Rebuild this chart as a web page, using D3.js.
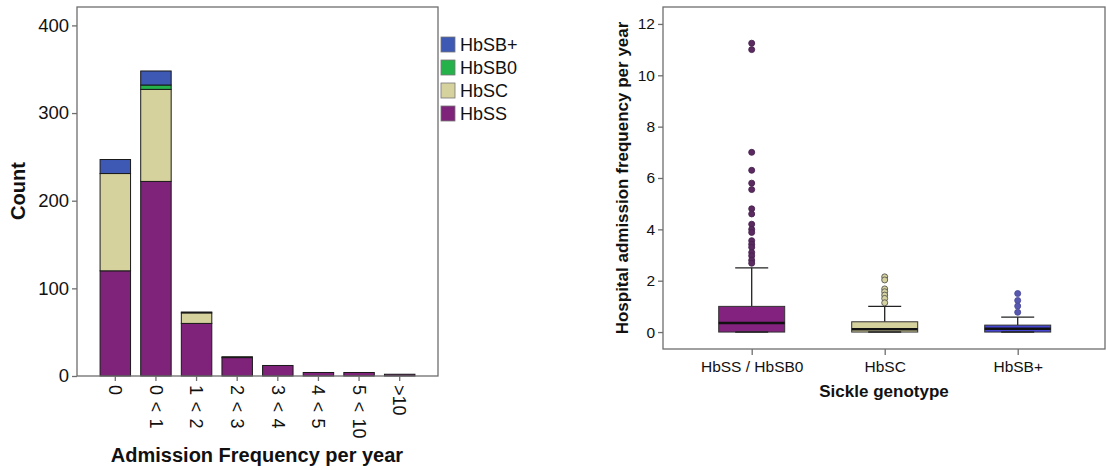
<!DOCTYPE html>
<html>
<head>
<meta charset="utf-8">
<script src="https://cdn.jsdelivr.net/npm/d3@7"></script>
<style>
  body { margin: 0; background: #fff; }
  text { font-family: Arial, "Liberation Sans", sans-serif; fill: #111; }
</style>
</head>
<body>
<svg id="chart" width="1107" height="470"></svg>
<script>
// ---- left chart data: stacked counts per admission bin
const bins = ["0", "0 < 1", "1 < 2", "2 < 3", "3 < 4", "4 < 5", "5 < 10", ">10"];
const hbss = [120, 222, 60, 21, 12, 4, 4, 2];
const hbsc = [111, 105, 12, 1, 0, 0, 0, 0];
const hbsb0 = [0, 5, 0, 0, 0, 0, 0, 0];
const hbsbPlus = [16, 16, 1, 0, 0, 0, 0, 0];
const countTicks = [0, 100, 200, 300, 400];
const stackKeys = ["HbSS", "HbSC", "HbSB0", "HbSB+"];
const legendOrder = ["HbSB+", "HbSB0", "HbSC", "HbSS"];

// ---- right chart data: box plot summaries per genotype
const genotypes = ["HbSS / HbSB0", "HbSC", "HbSB+"];
const whiskLow = [0, 0, 0];
const q1 = [0, 0, 0];
const median = [0.35, 0.11, 0.13];
const q3 = [1.0, 0.4, 0.27];
const whiskHigh = [2.5, 1.0, 0.58];
const outliersSS = [11.25, 11.0, 7.0, 6.3, 5.8, 5.55, 4.8, 4.6, 4.2, 4.0, 3.88, 3.56, 3.42, 3.3, 3.1, 2.97, 2.8, 2.68];
const outliersSC = [2.15, 2.03, 1.68, 1.57, 1.44, 1.31, 1.14];
const outliersSBp = [1.5, 1.23, 1.01, 0.77];
const rateTicks = [0, 2, 4, 6, 8, 10, 12];

const colors = { "HbSS": "#7e2379", "HbSC": "#d6d29e", "HbSB0": "#26b24b", "HbSB+": "#3d59b4" };
const boxFill = ["#84227f", "#d6d29e", "#4646d2"];
const dotFill = ["#5a2a60", "#d6d29e", "#5858b0"];
const dotStroke = ["#4a2250", "#555", "#4a4a9a"];

const svg = d3.select("#chart");
const axisColor = "#6e6e6e";

// ================= LEFT: stacked bar chart =================
const L = { x0: 77, x1: 438, y0: 7, y1: 376 };
const xL = d3.scaleBand().domain(bins).range([95, 420]).paddingInner(0.25).paddingOuter(0.125);
const yL = d3.scaleLinear().domain([0, 421]).range([L.y1, L.y0]);

const rows = bins.map((b, i) => ({ bin: b, "HbSS": hbss[i], "HbSC": hbsc[i], "HbSB0": hbsb0[i], "HbSB+": hbsbPlus[i] }));
const stacked = d3.stack().keys(stackKeys)(rows);

const left = svg.append("g");
stacked.forEach(layer => {
  left.selectAll(null)
    .data(layer.filter(d => d[1] > d[0]))
    .enter().append("rect")
    .attr("x", d => xL(d.data.bin))
    .attr("width", xL.bandwidth())
    .attr("y", d => yL(d[1]))
    .attr("height", d => yL(d[0]) - yL(d[1]))
    .attr("fill", colors[layer.key])
    .attr("stroke", "#1a1a1a")
    .attr("stroke-width", 1);
});

// frame
left.append("rect")
  .attr("x", L.x0).attr("y", L.y0)
  .attr("width", L.x1 - L.x0).attr("height", L.y1 - L.y0)
  .attr("fill", "none").attr("stroke", axisColor).attr("stroke-width", 1.3);

// y axis
const yAxisL = left.append("g").attr("transform", `translate(${L.x0},0)`)
  .call(d3.axisLeft(yL).tickValues(countTicks).tickSize(5).tickPadding(3));
yAxisL.select(".domain").remove();
yAxisL.selectAll("line").attr("stroke", axisColor).attr("stroke-width", 1.3);
yAxisL.selectAll("text").style("font-size", "18.5px").attr("fill", "#111");

// x axis
const xAxisL = left.append("g").attr("transform", `translate(0,${L.y1})`)
  .call(d3.axisBottom(xL).tickSize(5).tickSizeOuter(0));
xAxisL.select(".domain").remove();
xAxisL.selectAll("line").attr("stroke", axisColor).attr("stroke-width", 1.3);
xAxisL.selectAll("text")
  .attr("transform", "rotate(90)")
  .attr("x", 9).attr("y", 0).attr("dy", "0.35em")
  .style("text-anchor", "start")
  .style("word-spacing", "1.5px")
  .style("font-size", "18px").attr("fill", "#111");

left.append("text")
  .attr("transform", "translate(25,191) rotate(-90)")
  .attr("text-anchor", "middle")
  .style("font-size", "20px").style("font-weight", "bold")
  .text("Count");

left.append("text")
  .attr("x", 257).attr("y", 462)
  .attr("text-anchor", "middle")
  .style("font-size", "20px").style("font-weight", "bold")
  .text("Admission Frequency per year");

// legend
const legend = svg.append("g").attr("transform", "translate(441,37)");
legendOrder.forEach((k, i) => {
  const g = legend.append("g").attr("transform", `translate(0,${i * 23})`);
  g.append("rect").attr("width", 14).attr("height", 15)
    .attr("fill", colors[k]).attr("stroke", "#777").attr("stroke-width", 0.8);
  g.append("text").attr("x", 19).attr("y", 7.5).attr("dy", "0.36em")
    .style("font-size", "18px").text(k);
});

// ================= RIGHT: box plot =================
const R = { x0: 663, x1: 1105, y0: 7, y1: 349 };
const xR = d3.scalePoint().domain(genotypes).range([751.7, 1017.7]);
const yR = d3.scaleLinear().domain([-0.66, 12.66]).range([R.y1, R.y0]);
const boxW = 66, capW = 33;
const outliers = [outliersSS, outliersSC, outliersSBp];

const right = svg.append("g");
right.append("rect")
  .attr("x", R.x0).attr("y", R.y0)
  .attr("width", R.x1 - R.x0).attr("height", R.y1 - R.y0)
  .attr("fill", "none").attr("stroke", axisColor).attr("stroke-width", 1.3);

genotypes.forEach((g, i) => {
  const cx = xR(g);
  const grp = right.append("g");
  // whisker stem
  grp.append("line").attr("x1", cx).attr("x2", cx)
    .attr("y1", yR(q3[i])).attr("y2", yR(whiskHigh[i]))
    .attr("stroke", "#222").attr("stroke-width", 1.3);
  grp.append("line").attr("x1", cx - capW / 2).attr("x2", cx + capW / 2)
    .attr("y1", yR(whiskHigh[i])).attr("y2", yR(whiskHigh[i]))
    .attr("stroke", "#222").attr("stroke-width", 1.3);
  // box
  grp.append("rect")
    .attr("x", cx - boxW / 2).attr("width", boxW)
    .attr("y", yR(q3[i])).attr("height", yR(q1[i]) - yR(q3[i]))
    .attr("fill", boxFill[i]).attr("stroke", "#333").attr("stroke-width", 1);
  // lower whisker cap
  grp.append("line").attr("x1", cx - capW / 2).attr("x2", cx + capW / 2)
    .attr("y1", yR(whiskLow[i])).attr("y2", yR(whiskLow[i]))
    .attr("stroke", "#222").attr("stroke-width", 1.6);
  // median
  grp.append("line").attr("x1", cx - boxW / 2).attr("x2", cx + boxW / 2)
    .attr("y1", yR(median[i])).attr("y2", yR(median[i]))
    .attr("stroke", "#111").attr("stroke-width", 2.6);
  // outliers
  grp.selectAll(null).data(outliers[i]).enter().append("circle")
    .attr("cx", cx).attr("cy", d => yR(d)).attr("r", 3)
    .attr("fill", dotFill[i]).attr("stroke", dotStroke[i]).attr("stroke-width", 0.9);
});

const yAxisR = right.append("g").attr("transform", `translate(${R.x0},0)`)
  .call(d3.axisLeft(yR).tickValues(rateTicks).tickSize(5).tickPadding(3));
yAxisR.select(".domain").remove();
yAxisR.selectAll("line").attr("stroke", axisColor).attr("stroke-width", 1.3);
yAxisR.selectAll("text").style("font-size", "15.5px").attr("fill", "#111");

const xAxisR = right.append("g").attr("transform", `translate(0,${R.y1})`)
  .call(d3.axisBottom(xR).tickSize(6).tickPadding(6).tickSizeOuter(0));
xAxisR.select(".domain").remove();
xAxisR.selectAll("line").attr("stroke", axisColor).attr("stroke-width", 1.3);
xAxisR.selectAll("text").style("font-size", "15.5px").attr("fill", "#111");

right.append("text")
  .attr("transform", "translate(628,178) rotate(-90)")
  .attr("text-anchor", "middle")
  .style("font-size", "17px").style("font-weight", "bold")
  .text("Hospital admission frequency per year");

right.append("text")
  .attr("x", 884).attr("y", 397)
  .attr("text-anchor", "middle")
  .style("font-size", "17px").style("font-weight", "bold")
  .text("Sickle genotype");
</script>
</body>
</html>
